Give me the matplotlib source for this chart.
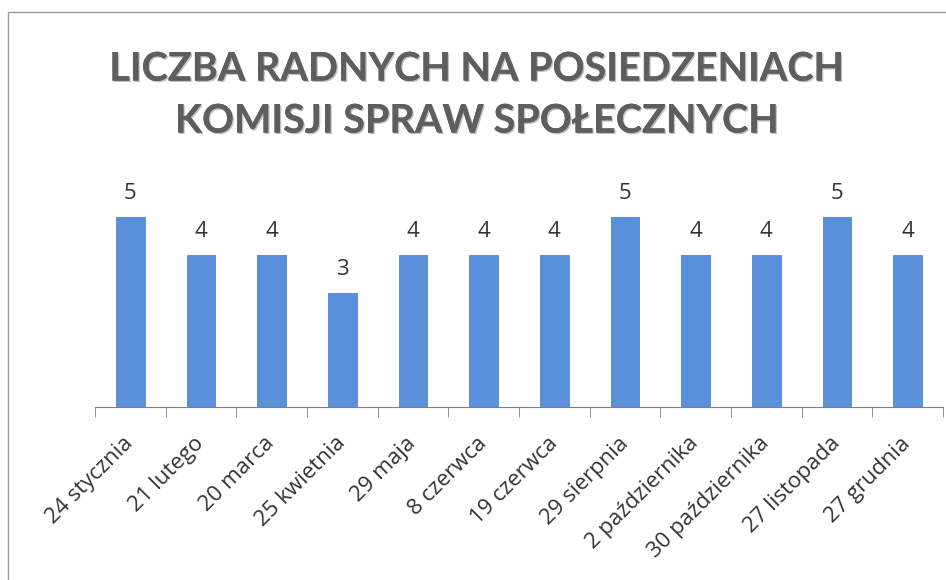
import matplotlib.pyplot as plt
import matplotlib.patheffects as pe
from matplotlib.patches import Rectangle
import numpy as np

# dane: liczba radnych na posiedzeniach komisji
daty = ['24 stycznia', '21 lutego', '20 marca', '25 kwietnia', '29 maja',
        '8 czerwca', '19 czerwca', '29 sierpnia', '2 października',
        '30 października', '27 listopada', '27 grudnia']
radni = [5, 4, 4, 3, 4, 4, 4, 5, 4, 4, 5, 4]

plt.rcParams['font.family'] = ['Open Sans', 'DejaVu Sans']

fig = plt.figure(figsize=(9.46, 5.8), dpi=100)
fig.patches.append(Rectangle((8 / 946, -0.05), 1.0, (580 - 12) / 580 + 0.05,
                             transform=fig.transFigure, fill=False,
                             edgecolor='#9a9a9a', linewidth=1.0))

ax = fig.add_axes([95 / 946, 173 / 580, 848 / 946, 228 / 580])
x = np.arange(len(daty))
bars = ax.bar(x, radni, width=0.41, color='#5a8fdc', edgecolor='#4d86d8', linewidth=0.6)
ax.set_xlim(-0.5, len(daty) - 0.5)
ax.set_ylim(0, 6)

for xi, v in zip(x, radni):
    ax.text(xi, v + 0.33, str(v), ha='center', va='bottom', fontsize=16, color='#333333')

for s in ['top', 'right', 'left']:
    ax.spines[s].set_visible(False)
ax.spines['bottom'].set_color('#7f7f7f')
ax.set_yticks([])
ax.set_xticks(x)
ax.set_xticklabels(daty, rotation=45, ha='right', va='center', rotation_mode='anchor',
                   fontsize=16, color='#333333')
ax.tick_params(axis='x', which='major', length=0, pad=24)
ax.set_xticks(np.arange(-0.5, len(daty)), minor=True)
ax.tick_params(axis='x', which='minor', length=7, color='#7f7f7f', direction='out')

fig.text(0.505, 0.836, 'LICZBA RADNYCH NA POSIEDZENIACH\nKOMISJI SPRAW SPOŁECZNYCH',
         ha='center', va='center', fontsize=28.5, fontweight='bold', color='#5e5e5e',
         family=['Lato', 'DejaVu Sans'], linespacing=1.5,
         path_effects=[pe.withSimplePatchShadow(offset=(1.0, -1.0), shadow_rgbFace='#999999', alpha=0.6),
                       pe.Normal()])

fig.savefig('out.png', dpi=100)
